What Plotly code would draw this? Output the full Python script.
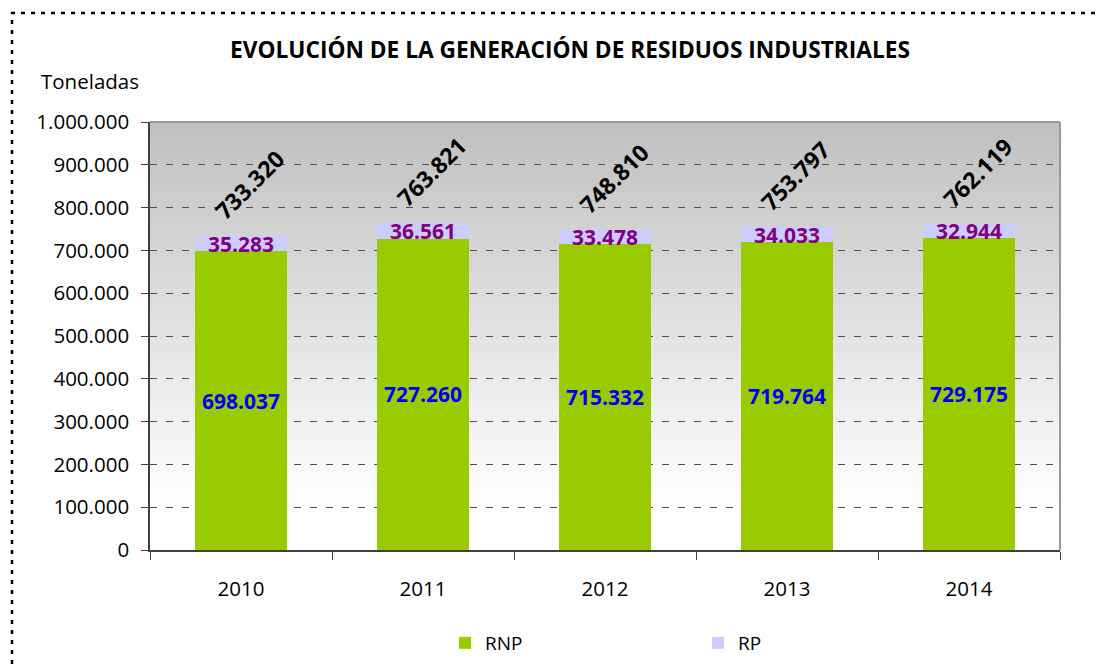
import plotly.graph_objects as go

years = ["2010", "2011", "2012", "2013", "2014"]
rnp = [698037, 727260, 715332, 719764, 729175]
rp = [35283, 36561, 33478, 34033, 32944]
totals = [733320, 763821, 748810, 753797, 762119]
y_ticks = [0, 100000, 200000, 300000, 400000, 500000, 600000, 700000, 800000, 900000, 1000000]

pos = list(range(len(years)))
bounds = [p - 0.5 for p in pos] + [pos[-1] + 0.5]


def fmt(v):
    return f"{v:,}".replace(",", ".")


FONT = "Open Sans"
OFF = 8  # browser body margin
W, H = 1104 - OFF, 670 - OFF
L, R, T, B = 150 - OFF, 44, 122 - OFF, 120
pw = W - L - R
ph = H - T - B


def px_x(page_x):
    return (page_x - OFF - L) / pw


def px_y(page_y):
    return (H - B - (page_y - OFF)) / ph


fig = go.Figure()
fig.add_trace(go.Bar(
    x=pos, y=rnp, name="RNP", marker=dict(color="#99CC00", line=dict(width=0)),
    text=[fmt(v) for v in rnp], textposition="inside", insidetextanchor="middle",
    textangle=0, constraintext="none",
    textfont=dict(family=FONT, size=21, color="#0000F0", weight="bold"),
    width=0.505,
))
fig.add_trace(go.Bar(
    x=pos, y=rp, name="RP", marker=dict(color="#CCCCFF", line=dict(width=0)),
    width=0.505,
))

annotations = []
for p, a, b in zip(pos, rnp, rp):
    annotations.append(dict(x=p, y=a + b / 2, text=fmt(b), showarrow=False,
                            font=dict(family=FONT, size=21, color="#800080", weight="bold"),
                            xref="x", yref="y"))
for p, t in zip(pos, totals):
    annotations.append(dict(x=p, y=t, text=fmt(t), showarrow=False, textangle=-45,
                            yshift=51, xshift=8,
                            font=dict(family=FONT, size=23, color="#000000", weight="bold"),
                            xref="x", yref="y"))
annotations.append(dict(text="Toneladas", xref="paper", yref="paper",
                        x=px_x(39), y=px_y(81), xanchor="left", yanchor="middle",
                        showarrow=False, font=dict(family=FONT, size=20.5, color="#000000")))

# gradient background bands
N = 100
shapes = []
for i in range(N):
    y0 = i / N
    y1 = (i + 1) / N
    frac = (i + 0.5) / N  # 0 bottom -> 1 top
    f = max(0.0, (frac - 0.1) / 0.9)
    c = int(round(255 - (255 - 192) * f))
    shapes.append(dict(type="rect", xref="paper", yref="paper", x0=0, x1=1, y0=y0, y1=y1 + 0.002,
                       fillcolor=f"rgb({c},{c},{c})", line=dict(width=0), layer="below"))
shapes.append(dict(type="line", xref="paper", yref="paper", x0=0, x1=1, y0=1, y1=1,
                   line=dict(color="#999999", width=2), layer="above"))
shapes.append(dict(type="line", xref="paper", yref="paper", x0=1, x1=1, y0=0, y1=1,
                   line=dict(color="#999999", width=2), layer="above"))
# outer dotted frame
shapes.append(dict(type="rect", xref="paper", yref="paper", x0=px_x(12), x1=px_x(1120),
                   y0=px_y(690), y1=px_y(13),
                   line=dict(color="#000000", width=2.5, dash="4px,6px"), layer="above"))

fig.update_layout(
    width=W, height=H,
    barmode="stack",
    separators=",.",
    paper_bgcolor="#FFFFFF", plot_bgcolor="#FFFFFF",
    margin=dict(l=L, r=R, t=T, b=B, autoexpand=False),
    font=dict(family=FONT, color="#000000"),
    title=dict(text="EVOLUCIÓN DE LA GENERACIÓN DE RESIDUOS INDUSTRIALES",
               x=(570 - OFF) / W, xanchor="center", y=1 - (50 - OFF) / H, yanchor="middle",
               font=dict(family=FONT, size=22.7, color="#000000", weight="bold")),
    shapes=shapes,
    annotations=annotations,
    showlegend=True,
    legend=dict(orientation="h", x=px_x(445), xanchor="left", y=px_y(643), yanchor="middle",
                entrywidth=208, entrywidthmode="pixels", traceorder="normal",
                font=dict(family=FONT, size=19, color="#000000"), bgcolor="rgba(0,0,0,0)"),
    yaxis=dict(range=[0, 1000000], tickvals=y_ticks, tickformat=",.0f",
               showgrid=True, gridcolor="#505050", griddash="7px,9px", gridwidth=1,
               showline=True, linecolor="#404040", linewidth=1.5,
               ticks="outside", ticklen=7, tickcolor="#404040", ticklabelstandoff=8,
               tickfont=dict(family=FONT, size=20.5, color="#000000"), zeroline=False),
    xaxis=dict(range=[-0.5, len(years) - 0.5], tickvals=pos, ticktext=years, ticks="",
               showline=True, linecolor="#404040", linewidth=1.5,
               showgrid=False, zeroline=False, ticklabelstandoff=20,
               minor=dict(tickvals=bounds, ticks="outside", ticklen=8, tickcolor="#404040",
                          showgrid=False),
               tickfont=dict(family=FONT, size=20.5, color="#000000")),
)

fig.write_html("out.html")
